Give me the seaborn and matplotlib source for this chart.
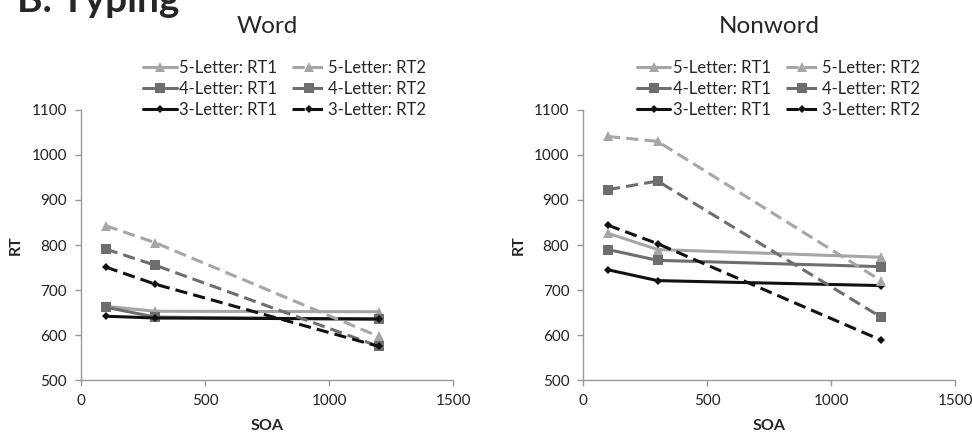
import matplotlib
matplotlib.use("Agg")
import matplotlib.pyplot as plt
import seaborn as sns
import pandas as pd

soa = [100, 300, 1200]
series_names = ["5-Letter: RT1", "4-Letter: RT1", "3-Letter: RT1",
                "5-Letter: RT2", "4-Letter: RT2", "3-Letter: RT2"]

word_5_rt1 = [664, 653, 652]
word_4_rt1 = [662, 640, 635]
word_3_rt1 = [642, 638, 636]
word_5_rt2 = [843, 805, 597]
word_4_rt2 = [791, 755, 575]
word_3_rt2 = [751, 713, 575]

nonword_5_rt1 = [826, 790, 773]
nonword_4_rt1 = [790, 766, 752]
nonword_3_rt1 = [745, 721, 710]
nonword_5_rt2 = [1041, 1030, 721]
nonword_4_rt2 = [923, 942, 640]
nonword_3_rt2 = [844, 803, 589]

x_ticks = [0, 500, 1000, 1500]
y_ticks = [500, 600, 700, 800, 900, 1000, 1100]

sns.set_theme(style="white")
plt.rcParams['font.family'] = ['Lato', 'DejaVu Sans']

styles = {
    "5-Letter: RT1": dict(color="#a6a6a6", linestyle="-", marker="^", ms=7.5),
    "4-Letter: RT1": dict(color="#6e6e6e", linestyle="-", marker="s", ms=7),
    "3-Letter: RT1": dict(color="#111111", linestyle="-", marker="D", ms=4.5),
    "5-Letter: RT2": dict(color="#a6a6a6", linestyle=(0, (4, 2)), marker="^", ms=7.5),
    "4-Letter: RT2": dict(color="#6e6e6e", linestyle=(0, (4, 2)), marker="s", ms=7),
    "3-Letter: RT2": dict(color="#111111", linestyle=(0, (4, 2)), marker="D", ms=4.5),
}

panels = [
    ("Word", [word_5_rt1, word_4_rt1, word_3_rt1, word_5_rt2, word_4_rt2, word_3_rt2]),
    ("Nonword", [nonword_5_rt1, nonword_4_rt1, nonword_3_rt1, nonword_5_rt2, nonword_4_rt2, nonword_3_rt2]),
]

fig = plt.figure(figsize=(9.72, 4.36), dpi=100)
lefts = [0.0833, 0.600]
leg_x = [0.145, 0.122]
for (title, vals), left, lx in zip(panels, lefts, leg_x):
    ax = fig.add_axes([left, 0.128, 0.383, 0.620])
    rows = []
    for name, v in zip(series_names, vals):
        for s, r in zip(soa, v):
            rows.append({"SOA": s, "RT": r, "series": name})
    df = pd.DataFrame(rows)
    for name in series_names:
        st = styles[name]
        sub = df[df["series"] == name]
        sns.lineplot(data=sub, x="SOA", y="RT", ax=ax, color=st["color"],
                     linestyle=st["linestyle"], marker=st["marker"],
                     markersize=st["ms"], markeredgewidth=0, linewidth=2.2,
                     label=name, legend=False)
    handles = ax.get_lines()[-6:]
    ax.set_xlim(0, 1500)
    ax.set_ylim(500, 1100)
    ax.set_xticks(x_ticks)
    ax.set_yticks(y_ticks)
    ax.tick_params(axis="both", labelsize=11, colors="#222222",
                   length=4, width=1, direction="out", left=True, bottom=True,
                   pad=6)
    ax.tick_params(axis="both", color="#999999")
    for sp in ["top", "right"]:
        ax.spines[sp].set_visible(False)
    for sp in ["left", "bottom"]:
        ax.spines[sp].set_color("#999999")
        ax.spines[sp].set_linewidth(1)
    ax.set_xlabel("SOA", fontweight="bold", fontsize=11.5, labelpad=8)
    ax.set_ylabel("RT", fontweight="bold", fontsize=11.5, labelpad=6)
    ax.legend(handles=handles, labels=series_names, ncol=2,
              loc="lower left", bbox_to_anchor=(lx, 0.94),
              frameon=False, fontsize=12, handlelength=2.0, borderpad=0,
              columnspacing=0.9, handletextpad=0.15, labelspacing=0.3)
    fig.text(left + 0.383 * 0.5, 0.94, title, ha="center", va="center",
             fontsize=17.5)

fig.text(0.017, 1.0, "B. Typing", ha="left", va="center", fontsize=28,
         fontweight="bold")

fig.savefig("out.png", dpi=100)
